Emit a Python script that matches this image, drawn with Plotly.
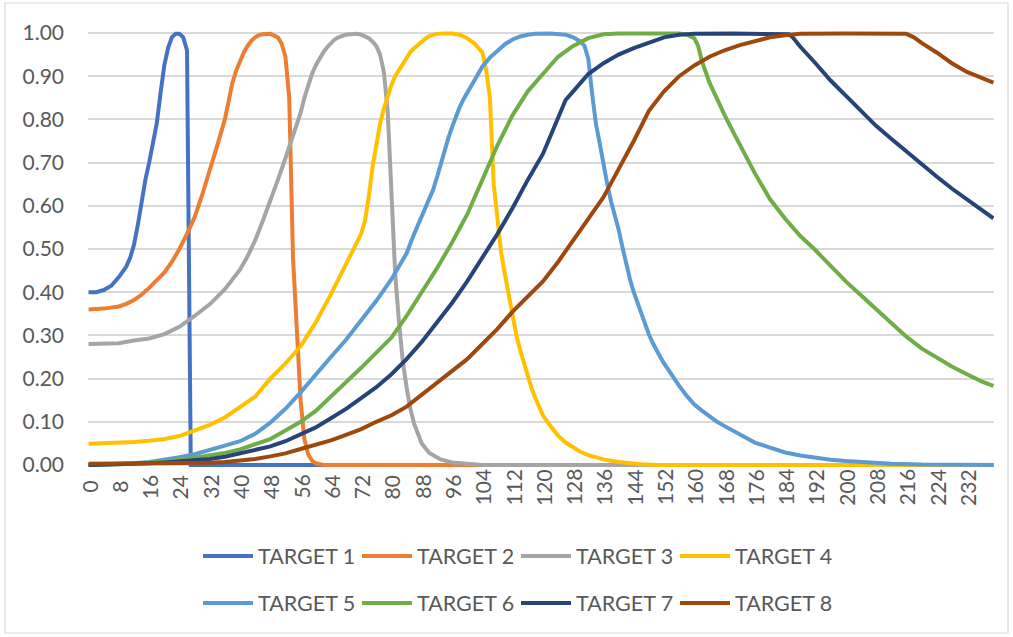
import plotly.graph_objects as go

# Sample index (x) and response (y) for each target curve
x_t1 = [0, 2, 4, 6, 8, 10, 11, 12, 13, 14, 15, 16, 17, 18, 19, 20, 21, 22, 23, 24, 25, 26, 27, 239]
y_t1 = [0.40, 0.40, 0.405, 0.415, 0.435, 0.46, 0.48, 0.51, 0.555, 0.61, 0.66, 0.70, 0.745,
        0.79, 0.86, 0.925, 0.965, 0.99, 0.998, 0.998, 0.99, 0.96, 0.0, 0.0]

x_t2 = [0, 4, 8, 10, 12, 14, 16, 18, 20, 22, 24, 26, 28, 30, 32, 34, 36, 37, 38, 39, 40, 41,
        42, 43, 44, 45, 46, 48, 50, 51, 52, 53, 54, 55, 56, 57, 58, 59, 60, 62, 239]
y_t2 = [0.36, 0.362, 0.367, 0.373, 0.382, 0.394, 0.41, 0.426, 0.445, 0.47, 0.50, 0.535, 0.573,
        0.625, 0.68, 0.74, 0.80, 0.845, 0.885, 0.913, 0.935, 0.955, 0.97, 0.982, 0.99, 0.995,
        0.997, 0.998, 0.99, 0.975, 0.945, 0.85, 0.48, 0.30, 0.15, 0.06, 0.025, 0.01, 0.004,
        0.0, 0.0]

x_t3 = [0, 4, 8, 12, 16, 20, 24, 28, 32, 36, 40, 42, 44, 46, 48, 50, 52, 54, 56, 57, 58, 59,
        60, 61, 62, 63, 64, 65, 66, 67, 68, 69, 70, 71, 72, 73, 74, 75, 76, 77, 78, 79, 80, 81,
        82, 83, 84, 85, 86, 88, 90, 93, 96, 100, 104, 239]
y_t3 = [0.28, 0.28, 0.282, 0.288, 0.293, 0.303, 0.32, 0.345, 0.372, 0.407, 0.452, 0.483, 0.52,
        0.565, 0.61, 0.66, 0.71, 0.76, 0.815, 0.85, 0.88, 0.905, 0.925, 0.942, 0.955, 0.967,
        0.977, 0.985, 0.99, 0.994, 0.996, 0.997, 0.998, 0.998, 0.996, 0.993, 0.988, 0.98,
        0.97, 0.95, 0.91, 0.82, 0.62, 0.44, 0.33, 0.24, 0.18, 0.13, 0.095, 0.05, 0.028, 0.013,
        0.006, 0.002, 0.0, 0.0]

x_t4 = [0, 4, 8, 12, 16, 20, 24, 28, 32, 36, 40, 44, 48, 52, 56, 60, 64, 68, 70, 72, 73, 74,
        75, 76, 77, 78, 79, 80, 81, 82, 83, 84, 85, 86, 87, 88, 89, 90, 91, 92, 94, 96, 98, 100,
        102, 104, 105, 106, 107, 108, 109, 110, 111, 112, 113, 114, 115, 116, 117, 118, 119, 120,
        122, 124, 126, 128, 130, 132, 134, 136, 138, 140, 146, 150, 239]
y_t4 = [0.049, 0.05, 0.051, 0.053, 0.056, 0.06, 0.067, 0.08, 0.093, 0.11, 0.135, 0.158, 0.2,
        0.235, 0.275, 0.33, 0.395, 0.465, 0.50, 0.535, 0.565, 0.62, 0.69, 0.745, 0.79, 0.825,
        0.855, 0.88, 0.9, 0.915, 0.93, 0.945, 0.956, 0.965, 0.973, 0.98, 0.987, 0.993, 0.996,
        0.998, 0.999, 0.999, 0.996, 0.988, 0.975, 0.955, 0.915, 0.85, 0.65, 0.56, 0.49, 0.44,
        0.39, 0.345, 0.30, 0.266, 0.235, 0.205, 0.178, 0.155, 0.133, 0.115, 0.09, 0.068, 0.052,
        0.04, 0.03, 0.023, 0.017, 0.013, 0.01, 0.007, 0.002, 0.0, 0.0]

x_t5 = [0, 8, 12, 16, 20, 24, 28, 32, 36, 40, 44, 48, 52, 56, 60, 64, 68, 72, 76, 80, 82, 84,
        86, 88, 89, 90, 91, 92, 93, 94, 95, 96, 97, 98, 99, 100, 101, 102, 104, 106, 108, 110,
        112, 114, 116, 118, 122, 126, 128, 130, 131, 132, 133, 134, 135, 136, 137, 138, 139,
        140, 141, 142, 143, 144, 145, 146, 147, 148, 149, 150, 151, 152, 154, 156, 158, 160,
        162, 164, 166, 168, 170, 172, 176, 180, 184, 188, 192, 196, 200, 206, 212, 220, 228, 239]
y_t5 = [0.0, 0.002, 0.004, 0.007, 0.012, 0.018, 0.025, 0.034, 0.045, 0.055, 0.072, 0.098,
        0.13, 0.168, 0.21, 0.25, 0.29, 0.335, 0.38, 0.43, 0.46, 0.49, 0.535, 0.575, 0.595,
        0.612, 0.637, 0.665, 0.698, 0.728, 0.756, 0.782, 0.806, 0.828, 0.846, 0.862, 0.878,
        0.893, 0.922, 0.943, 0.96, 0.974, 0.985, 0.992, 0.996, 0.998, 0.999, 0.996, 0.99, 0.98,
        0.97, 0.94, 0.86, 0.79, 0.745, 0.695, 0.65, 0.61, 0.578, 0.545, 0.505, 0.465, 0.43,
        0.40, 0.375, 0.35, 0.325, 0.302, 0.283, 0.265, 0.25, 0.235, 0.208, 0.183, 0.16, 0.14,
        0.126, 0.113, 0.1, 0.09, 0.08, 0.07, 0.052, 0.04, 0.029, 0.022, 0.016, 0.012, 0.009,
        0.005, 0.003, 0.001, 0.0005, 0.0]

x_t6 = [0, 8, 12, 16, 20, 24, 28, 32, 36, 40, 44, 48, 52, 56, 60, 64, 68, 72, 76, 80, 84, 88,
        92, 96, 100, 104, 108, 112, 116, 120, 124, 128, 132, 136, 140, 148, 156, 158, 159, 160,
        161, 162, 164, 166, 168, 170, 172, 174, 176, 178, 180, 184, 188, 192, 196, 200, 204,
        208, 212, 216, 220, 224, 228, 232, 236, 239]
y_t6 = [0.0, 0.001, 0.003, 0.005, 0.008, 0.012, 0.017, 0.022, 0.028, 0.036, 0.047, 0.06, 0.08,
        0.10, 0.125, 0.158, 0.19, 0.225, 0.26, 0.295, 0.345, 0.40, 0.455, 0.515, 0.58, 0.66,
        0.74, 0.81, 0.865, 0.905, 0.945, 0.97, 0.988, 0.997, 0.999, 0.999, 0.999, 0.996, 0.993,
        0.988, 0.97, 0.935, 0.885, 0.845, 0.81, 0.775, 0.74, 0.71, 0.675, 0.645, 0.615, 0.57,
        0.53, 0.497, 0.46, 0.425, 0.393, 0.36, 0.33, 0.297, 0.27, 0.248, 0.228, 0.21, 0.193,
        0.183]

x_t7 = [0, 8, 12, 16, 20, 24, 28, 32, 36, 40, 44, 48, 52, 56, 60, 64, 68, 72, 76, 80, 84, 88,
        92, 96, 100, 104, 108, 112, 116, 120, 124, 126, 128, 132, 136, 140, 144, 148, 152, 156,
        160, 170, 180, 185, 186, 188, 192, 196, 200, 204, 208, 212, 216, 220, 224, 228, 232,
        236, 239]
y_t7 = [0.0, 0.001, 0.002, 0.004, 0.006, 0.008, 0.01, 0.014, 0.019, 0.027, 0.034, 0.043, 0.055,
        0.07, 0.087, 0.108, 0.13, 0.155, 0.18, 0.21, 0.245, 0.285, 0.33, 0.375, 0.425, 0.478,
        0.535, 0.595, 0.66, 0.72, 0.8, 0.845, 0.865, 0.905, 0.93, 0.95, 0.965, 0.978, 0.99,
        0.996, 0.998, 0.999, 0.999, 0.997, 0.99, 0.968, 0.93, 0.89, 0.855, 0.82, 0.785, 0.755,
        0.725, 0.695, 0.668, 0.64, 0.615, 0.59, 0.571]

x_t8 = [0, 8, 16, 24, 32, 36, 40, 44, 48, 52, 56, 60, 64, 68, 72, 76, 80, 84, 88, 92, 96, 100,
        104, 108, 112, 116, 120, 124, 128, 132, 136, 140, 144, 148, 152, 156, 160, 164, 168,
        172, 176, 180, 184, 188, 200, 210, 216, 218, 220, 224, 228, 232, 236, 239]
y_t8 = [0.003, 0.003, 0.003, 0.004, 0.005, 0.007, 0.01, 0.014, 0.02, 0.027, 0.037, 0.046,
        0.057, 0.07, 0.083, 0.1, 0.115, 0.135, 0.163, 0.19, 0.217, 0.245, 0.28, 0.315, 0.355,
        0.39, 0.425, 0.47, 0.52, 0.57, 0.62, 0.685, 0.75, 0.82, 0.865, 0.9, 0.925, 0.945, 0.96,
        0.972, 0.982, 0.99, 0.995, 0.998, 0.999, 0.999, 0.998, 0.99, 0.977, 0.955, 0.93, 0.91,
        0.895, 0.885]

names = ["TARGET 1", "TARGET 2", "TARGET 3", "TARGET 4",
         "TARGET 5", "TARGET 6", "TARGET 7", "TARGET 8"]
colors = ["#4472C4", "#ED7D31", "#A5A5A5", "#FFC000",
          "#5B9BD5", "#70AD47", "#264478", "#9E480E"]
xs = [x_t1, x_t2, x_t3, x_t4, x_t5, x_t6, x_t7, x_t8]
ys = [y_t1, y_t2, y_t3, y_t4, y_t5, y_t6, y_t7, y_t8]

x_tick_values = list(range(0, 233, 8))
x_tick_labels = [str(v) for v in x_tick_values]
y_tick_values = [i / 10 for i in range(11)]
y_tick_labels = ["%.2f" % v for v in y_tick_values]

FONT = "Lato, Calibri, Carlito, sans-serif"
TEXT = "#595959"
GRID = "#D9D9D9"

# pixel geometry of the plotting area
W, H = 1013, 637
L, R, T, B = 88, 994, 30, 468


def px_x(px):
    return (px - L) / (R - L)


def px_y(py):
    return (B - py) / (B - T)


fig = go.Figure()
for k, (xv, yv) in enumerate(zip(xs, ys)):
    assert len(xv) == len(yv), names[k]
    fig.add_trace(go.Scatter(
        x=xv, y=yv, mode="lines", name=names[k],
        line=dict(color=colors[k], width=4),
        legend="legend" if k < 4 else "legend2",
        hoverinfo="x+y+name",
    ))

# category labels under the axis, rotated and centred on a common line
annotations = [dict(
    x=v, xref="x", y=px_y(487), yref="paper", text=t, textangle=-90,
    showarrow=False, xanchor="center", yanchor="middle",
    font=dict(family=FONT, size=21, color=TEXT),
) for v, t in zip(x_tick_values, x_tick_labels)]

pad_y = 3 / 432
legend_common = dict(
    orientation="h", x=px_x(516), xanchor="center", yanchor="middle",
    itemwidth=50, entrywidth=94, entrywidthmode="pixels",
    font=dict(family=FONT, size=21.5, color=TEXT), bgcolor="rgba(0,0,0,0)",
)
fig.update_layout(
    width=W, height=H,
    margin=dict(l=L, r=W - R, t=T, b=H - B, pad=0),
    paper_bgcolor="white", plot_bgcolor="white",
    font=dict(family=FONT, size=21, color=TEXT),
    xaxis=dict(
        range=[-0.15, 239.15], tickmode="array", tickvals=x_tick_values,
        showticklabels=False, showgrid=False, zeroline=False, showline=False,
        ticks="", fixedrange=True,
    ),
    yaxis=dict(
        range=[0 - pad_y, 1 + pad_y], tickmode="array",
        tickvals=y_tick_values, ticktext=y_tick_labels,
        showgrid=True, gridcolor=GRID, gridwidth=1.5,
        zeroline=True, zerolinecolor=GRID, zerolinewidth=1.5,
        showline=False, ticks="", ticklabelstandoff=23, fixedrange=True,
    ),
    legend=dict(legend_common, y=px_y(556)),
    legend2=dict(legend_common, y=px_y(603)),
    annotations=annotations,
    shapes=[dict(
        type="rect", xref="paper", yref="paper", layer="below",
        x0=px_x(5), x1=px_x(1008), y0=px_y(633), y1=px_y(3),
        line=dict(color="#D9D9D9", width=1.2), fillcolor="rgba(0,0,0,0)",
    )],
)

fig.write_html("out.html")
